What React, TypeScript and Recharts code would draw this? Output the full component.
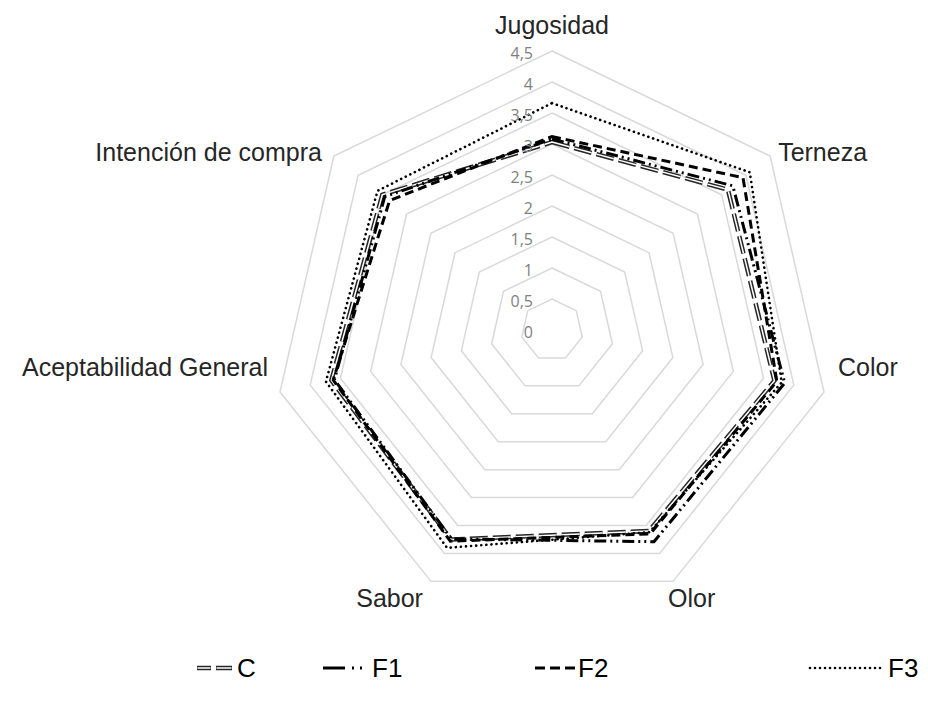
import React from 'react';
import { RadarChart, Radar, PolarGrid, PolarAngleAxis, PolarRadiusAxis, Legend } from 'recharts';

const CATEGORIES = ['Jugosidad', 'Terneza', 'Color', 'Olor', 'Sabor', 'Aceptabilidad General', 'Intención de compra'];
const C_VALUES = [3.03, 3.63, 3.68, 3.6, 3.75, 3.65, 3.5];
const F1_VALUES = [3.08, 3.73, 3.85, 3.79, 3.74, 3.6, 3.45];
const F2_VALUES = [3.12, 3.94, 3.72, 3.65, 3.78, 3.62, 3.35];
const F3_VALUES = [3.66, 4.08, 3.8, 3.62, 3.9, 3.74, 3.6];
const RADIUS_TICKS = [0, 0.5, 1, 1.5, 2, 2.5, 3, 3.5, 4, 4.5];
const SERIES_NAMES = ['C', 'F1', 'F2', 'F3'];

const data = CATEGORIES.map((name, i) => ({
  name,
  C: C_VALUES[i],
  F1: F1_VALUES[i],
  F2: F2_VALUES[i],
  F3: F3_VALUES[i],
}));

const W = 912;
const H = 690;
const CX = 544;
const CY = 322;
const R = 279; // radius of the 4,5 ring
const DOMAIN_MAX = 5;
const OUTER = (R * DOMAIN_MAX) / 4.5;

const LABEL_LAYOUT = [
  { dx: 0, dy: -26, anchor: 'middle' },
  { dx: 8, dy: -4, anchor: 'start' },
  { dx: 14, dy: -25, anchor: 'start' },
  { dx: -5, dy: 17, anchor: 'start' },
  { dx: -8, dy: 17, anchor: 'end' },
  { dx: -12, dy: -25, anchor: 'end' },
  { dx: -12, dy: -4, anchor: 'end' },
];

const LABEL_FONT = 'Liberation Sans, Arial, sans-serif';

function AngleTick(props: any) {
  const { payload } = props;
  const i = CATEGORIES.indexOf(payload.value);
  const theta = ((90 - (i * 360) / CATEGORIES.length) * Math.PI) / 180;
  const vx = CX + R * Math.cos(theta);
  const vy = CY - R * Math.sin(theta);
  const L = LABEL_LAYOUT[i];
  return (
    <text
      x={vx + L.dx}
      y={vy + L.dy}
      textAnchor={L.anchor as any}
      dominantBaseline="central"
      fontFamily={LABEL_FONT}
      fontSize={25}
      fill="#262626"
    >
      {payload.value}
    </text>
  );
}

function RadiusTick(props: any) {
  const { x, y, payload } = props;
  return (
    <text
      x={x - 19}
      y={y + 2}
      textAnchor="end"
      dominantBaseline="central"
      fontFamily="Open Sans, sans-serif"
      fontSize={16}
      fill="#7f7f7f"
    >
      {String(payload.value).replace('.', ',')}
    </text>
  );
}

function LegendContent() {
  const ty = 20;
  const dots: number[] = [];
  for (let x = 802; x <= 872; x += 5) dots.push(x);
  return (
    <svg width={W} height={40} style={{ display: 'block' }}>
      <g>
        <line x1={189} y1={ty} x2={203} y2={ty} stroke="#262626" strokeWidth={4.5} />
        <line x1={208} y1={ty} x2={224} y2={ty} stroke="#262626" strokeWidth={4.5} />
        <line x1={189.5} y1={ty} x2={202.5} y2={ty} stroke="#fff" strokeWidth={1.5} />
        <line x1={208.5} y1={ty} x2={223.5} y2={ty} stroke="#fff" strokeWidth={1.5} />
        <text x={229} y={ty} dominantBaseline="central" fontFamily={LABEL_FONT} fontSize={26} fill="#000">{SERIES_NAMES[0]}</text>
      </g>
      <g>
        <line x1={315} y1={ty} x2={337} y2={ty} stroke="#000" strokeWidth={3} />
        <line x1={344} y1={ty} x2={346} y2={ty} stroke="#000" strokeWidth={3} />
        <line x1={352} y1={ty} x2={354} y2={ty} stroke="#000" strokeWidth={3} />
        <text x={364} y={ty} dominantBaseline="central" fontFamily={LABEL_FONT} fontSize={26} fill="#000">{SERIES_NAMES[1]}</text>
      </g>
      <g>
        <line x1={527} y1={ty} x2={567} y2={ty} stroke="#000" strokeWidth={3} strokeDasharray="10 5" />
        <text x={570} y={ty} dominantBaseline="central" fontFamily={LABEL_FONT} fontSize={26} fill="#000">{SERIES_NAMES[2]}</text>
      </g>
      <g>
        {dots.map((x) => (
          <circle key={x} cx={x} cy={ty} r={1.3} fill="#000" />
        ))}
        <text x={880} y={ty} dominantBaseline="central" fontFamily={LABEL_FONT} fontSize={26} fill="#000">{SERIES_NAMES[3]}</text>
      </g>
    </svg>
  );
}

export default function App() {
  return (
    <div style={{ width: W, height: H, position: 'relative' }}>
      <RadarChart width={W} height={H} data={data} cx={CX} cy={CY} outerRadius={OUTER} margin={{ top: 0, right: 0, bottom: 0, left: 0 }}>
        <PolarGrid gridType="polygon" radialLines={false} stroke="#d9d9d9" strokeWidth={1.5} />
        <PolarAngleAxis dataKey="name" tick={<AngleTick />} tickLine={false} axisLine={false} />
        <PolarRadiusAxis
          angle={90}
          type="number"
          domain={[0, DOMAIN_MAX]}
          allowDataOverflow
          ticks={RADIUS_TICKS as any}
          tickCount={11}
          axisLine={false}
          tick={<RadiusTick />}
        />
        <Radar dataKey="C" stroke="#262626" strokeWidth={4.5} strokeDasharray="18 5" fill="none" fillOpacity={0} isAnimationActive={false} />
        <Radar dataKey="C" stroke="#ffffff" strokeWidth={1.5} strokeDasharray="18 5" fill="none" fillOpacity={0} isAnimationActive={false} legendType="none" />
        <Radar dataKey="F1" stroke="#000" strokeWidth={3} strokeDasharray="12 4 2 4 2 4" fill="none" fillOpacity={0} isAnimationActive={false} />
        <Radar dataKey="F2" stroke="#000" strokeWidth={3} strokeDasharray="9 5" fill="none" fillOpacity={0} isAnimationActive={false} />
        <Radar dataKey="F3" stroke="#000" strokeWidth={2.6} strokeDasharray="0.1 5" strokeLinecap="round" fill="none" fillOpacity={0} isAnimationActive={false} />
        <Legend
          content={<LegendContent />}
          wrapperStyle={{ position: 'absolute', left: 0, top: 640, width: W, height: 40 }}
        />
      </RadarChart>
    </div>
  );
}
